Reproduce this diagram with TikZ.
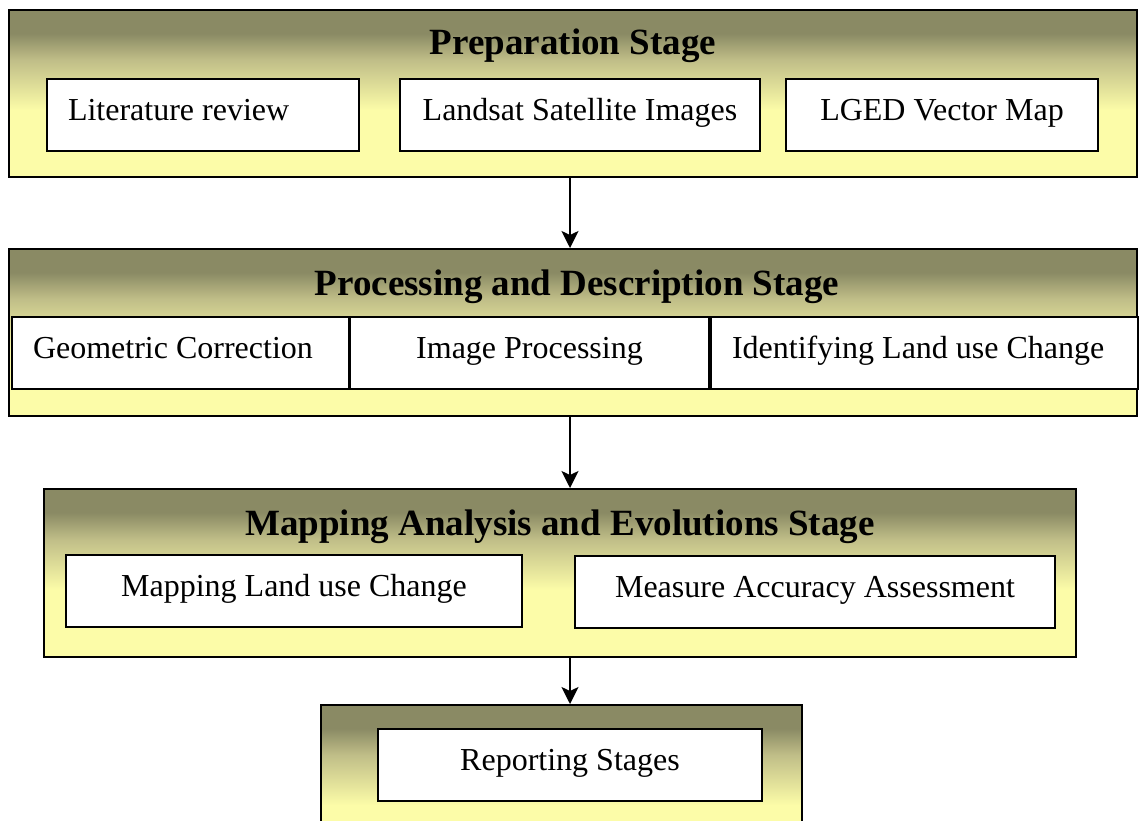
\documentclass[tikz,border=0pt]{standalone}
\usepackage{fontspec}
\setmainfont{Liberation Serif}
\usetikzlibrary{arrows.meta}
\definecolor{stagedark}{RGB}{138,138,100}
\definecolor{stagemid}{RGB}{192,190,136}
\definecolor{stagelight}{RGB}{252,252,168}
\pgfdeclareverticalshading{stageshade}{100bp}{color(0bp)=(stagelight); color(25bp)=(stagelight); color(45bp)=(stagelight); color(60bp)=(stagemid); color(68bp)=(stagedark); color(100bp)=(stagedark)}
\begin{document}
\begin{tikzpicture}[x=1pt, y=-1pt,
        stage/.style={draw, line width=2pt, shading=stageshade, minimum height=167pt, inner sep=0pt},
        stagetitle/.style={anchor=base, font=\fontsize{37}{40}\selectfont\bfseries},
        item/.style={draw, line width=2pt, fill=white, minimum height=72pt, inner sep=0pt,
            text height=22pt, text depth=12pt, font=\fontsize{32}{36}\selectfont},
        itemleft/.style={item, align=flush left, inner xsep=21pt},
        flow/.style={line width=2pt, -{Stealth[length=17pt, width=17pt, inset=4pt]}}]
        \clip (0, 0) rectangle (1139, 820);

        \node[stage, minimum width=1128pt] (prep) at (573, 93.5) {};
        \node[stagetitle] (preptitle) at (573, 54.5) {Preparation Stage};
        \node[itemleft, text width=270pt] (lit) at (203, 115) {Literature review};
        \node[item, minimum width=360pt] (land) at (580, 115) {Landsat Satellite Images};
        \node[item, minimum width=312pt] (lged) at (942, 115) {LGED Vector Map};

        \node[stage, minimum width=1128pt] (proc) at (573, 332.5) {};
        \node[stagetitle] (proctitle) at (577, 295) {Processing and Description Stage};
        \node[itemleft, text width=295pt] (geo) at (180.5, 353) {Geometric Correction};
        \node[item, minimum width=359pt] (imgp) at (529.5, 353) {Image Processing};
        \node[itemleft, text width=385pt] (ident) at (924.5, 353) {Identifying Land use Change};

        \node[stage, minimum width=1032pt, minimum height=168pt] (map) at (560, 573) {};
        \node[stagetitle] (maptitle) at (560, 535) {Mapping Analysis and Evolutions Stage};
        \node[item, minimum width=456pt] (mapl) at (294, 591) {Mapping Land use Change};
        \node[item, minimum width=480pt] (meas) at (815, 592) {Measure Accuracy Assessment};

        \node[stage, minimum width=481pt] (rep) at (561.5, 788.5) {};
        \node[item, minimum width=384pt] (repin) at (570, 765) {Reporting Stages};

        \draw[flow] (prep.south -| repin.center) -- (proc.north -| repin.center);
        \draw[flow] (proc.south -| repin.center) -- (map.north -| repin.center);
        \draw[flow] (map.south -| repin.center) -- (rep.north -| repin.center);
    \end{tikzpicture}
\end{document}
